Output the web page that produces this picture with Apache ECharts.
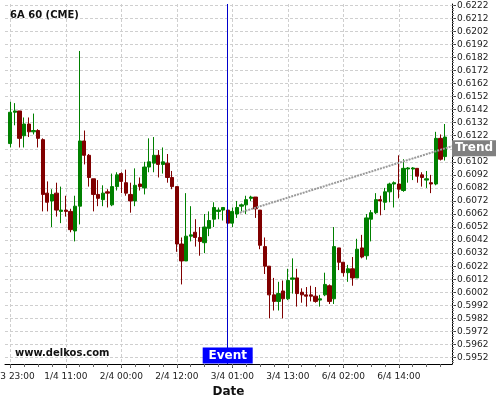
<!DOCTYPE html>
<html><head><meta charset="utf-8">
<script src="https://cdn.jsdelivr.net/npm/echarts@6/dist/echarts.min.js"></script>
<style>html,body{margin:0;padding:0;background:#fff}#c{width:500px;height:400px}</style>
</head><body><div id="c"></div>
<script>
const chartTitle = '6A 60 (CME)';
const watermark = 'www.delkos.com';
// hourly candles, index 0 = 31/3 23:00
const openP = [0.6116,0.6140,0.6141,0.6122,0.6131,0.6125,0.6126,0.6119,0.6078,0.6072,
  0.6078,0.6064,0.6065,0.6064,0.6049,0.6068,0.6118,0.6107,0.6089,0.6077,
  0.6073,0.6079,0.6069,0.6083,0.6093,0.6086,0.6077,0.6072,0.6085,0.6082,
  0.6098,0.6101,0.6107,0.6100,0.6101,0.6090,0.6083,0.6039,0.6026,0.6045,
  0.6048,0.6044,0.6040,0.6051,0.6058,0.6064,0.6065,0.6065,0.6055,0.6062,
  0.6068,0.6069,0.6074,0.6075,0.6065,0.6037,0.6022,0.6000,0.5995,0.6003,
  0.5997,0.6012,0.6013,0.6002,0.6000,0.6000,0.5999,0.5996,0.6000,0.6007,
  0.5997,0.6036,0.6025,0.6017,0.6020,0.6013,0.6036,0.6030,0.6058,0.6063,
  0.6073,0.6071,0.6079,0.6085,0.6085,0.6080,0.60965,0.60965,0.6097,0.6092,
  0.6088,0.6086,0.6085,0.6120,0.6106];
const closeP = [0.6140,0.6141,0.6120,0.6131,0.6125,0.6126,0.6120,0.6077,0.6071,0.6077,
  0.6065,0.6065,0.6064,0.6050,0.6068,0.6118,0.6107,0.6090,0.6077,0.6074,
  0.6078,0.6078,0.6083,0.6092,0.6087,0.6078,0.6072,0.6084,0.6083,0.6098,
  0.6102,0.6107,0.6100,0.6102,0.6090,0.6083,0.6039,0.6026,0.6045,0.6046,
  0.6044,0.6041,0.6052,0.6057,0.6067,0.6065,0.6067,0.6055,0.6064,0.6067,
  0.6069,0.6073,0.6075,0.6066,0.6038,0.6022,0.6000,0.5995,0.6001,0.5997,
  0.6011,0.6013,0.6001,0.6000,0.5999,0.5999,0.5995,0.5997,0.6008,0.5995,
  0.6037,0.6025,0.6017,0.6020,0.6013,0.6035,0.6029,0.6059,0.6063,0.6073,
  0.6072,0.6079,0.6085,0.6086,0.6081,0.6097,0.60973,0.60973,0.6091,0.6090,
  0.6089,0.6085,0.6120,0.6104,0.6121];
const lowP = [0.6113,0.6130,0.6113,0.6113,0.6121,0.6123,0.6113,0.6064,0.6064,0.6052,
  0.6060,0.6055,0.6060,0.6048,0.6041,0.6054,0.6100,0.6083,0.6064,0.6068,
  0.6068,0.6067,0.6068,0.6080,0.6078,0.6076,0.6063,0.6068,0.6080,0.6077,
  0.6094,0.6094,0.6090,0.6093,0.6086,0.6081,0.6033,0.6008,0.6026,0.6041,
  0.6037,0.6030,0.6032,0.6045,0.6052,0.6058,0.6057,0.6055,0.6052,0.6059,
  0.6064,0.6062,0.6072,0.6059,0.6035,0.6016,0.5982,0.5988,0.5988,0.5982,
  0.5996,0.6001,0.5991,0.5994,0.5991,0.5995,0.5994,0.5991,0.5999,0.5993,
  0.5993,0.6019,0.6014,0.6010,0.6007,0.6013,0.6028,0.6027,0.6041,0.6062,
  0.6061,0.6065,0.6071,0.6067,0.6074,0.6079,0.6086,0.6088,0.6086,0.6083,
  0.6082,0.6078,0.6084,0.6103,0.6103];
const highP = [0.6148,0.6147,0.6141,0.6136,0.6136,0.6139,0.6127,0.6120,0.6087,0.6081,
  0.6086,0.6083,0.6076,0.6066,0.6076,0.6187,0.6126,0.6108,0.6089,0.6088,
  0.6084,0.6081,0.6093,0.6094,0.6094,0.6096,0.6086,0.6097,0.6090,0.6102,
  0.6120,0.6121,0.6111,0.6113,0.6108,0.6095,0.6083,0.6044,0.6078,0.6068,
  0.6058,0.6052,0.6062,0.6064,0.6071,0.6067,0.6067,0.6067,0.6067,0.6072,
  0.6070,0.6076,0.6076,0.6075,0.6065,0.6044,0.6022,0.6013,0.6010,0.6011,
  0.6020,0.6028,0.6020,0.6005,0.6006,0.6007,0.6006,0.6000,0.6017,0.6008,
  0.6052,0.6036,0.6025,0.6023,0.6029,0.6043,0.6046,0.6062,0.6065,0.6078,
  0.6076,0.6082,0.6086,0.6087,0.6107,0.6104,0.6098,0.6098,0.6097,0.6094,
  0.6095,0.6092,0.6125,0.6123,0.6131];
const xTickIndex = [0, 12, 24, 36, 48, 60, 72, 84];
const xTickLabels = ['31/3 23:00', '1/4 11:00', '2/4 00:00', '2/4 12:00', '3/4 01:00', '3/4 13:00', '6/4 02:00', '6/4 14:00'];
const yTickValues = [0.5952,0.5962,0.5972,0.5982,0.5992,0.6002,0.6012,0.6022,0.6032,0.6042,
  0.6052,0.6062,0.6072,0.6082,0.6092,0.6102,0.6112,0.6122,0.6132,0.6142,
  0.6152,0.6162,0.6172,0.6182,0.6192,0.6202,0.6212,0.6222];
const eventIndex = 47;
const eventLabel = 'Event';
const trendStart = [49.6, 0.6063];
const trendEnd = [95.5, 0.6114];
const trendLabel = 'Trend';

const X_MIN = -1.15, X_MAX = 95.5, Y_MIN = 0.5947, Y_MAX = 0.6223;
const FONT = 'DejaVu Sans';
const candleData = openP.map((o, i) => [i, o, closeP[i], lowP[i], highP[i]]);
const xMinor = []; for (let i = 0; i <= 93; i += 3) xMinor.push(i);
const yMinor = []; for (let k = 0; k <= 137; k++) yMinor.push(+(0.5948 + k * 0.0002).toFixed(4));
const gridLine = { show: true, lineStyle: { color: '#cfcfcf', type: [3, 2], width: 1 } };

const chart = echarts.init(document.getElementById('c'), null, { renderer: 'canvas' });
chart.setOption({
  animation: false,
  backgroundColor: '#fff',
  title: { text: chartTitle, left: 10, top: 10, padding: 0,
    textStyle: { fontFamily: FONT, fontSize: 10, fontWeight: 'bold', color: '#111' } },
  graphic: [{ type: 'text', left: 15, top: 348, z: 10,
    style: { text: watermark, font: 'bold 10px "DejaVu Sans"', fill: '#111' } }],
  grid: { left: 5, right: 48, top: 4, bottom: 36, containLabel: false, outerBoundsMode: 'none' },
  xAxis: [{
    type: 'value', min: X_MIN, max: X_MAX, position: 'bottom',
    name: 'Date', nameLocation: 'middle', nameGap: 17,
    nameTextStyle: { fontFamily: FONT, fontSize: 12, fontWeight: 'bold', color: '#111' },
    axisLine: { show: true, onZero: false, lineStyle: { color: '#000', width: 1 } },
    axisTick: { show: true, length: 4, customValues: xTickIndex, lineStyle: { color: '#444' } },
    axisLabel: { customValues: xTickIndex, margin: 8, fontFamily: FONT, fontSize: 9, color: '#222',
      formatter: v => xTickLabels[xTickIndex.indexOf(Math.round(v))] },
    splitLine: gridLine
  }, {
    type: 'value', min: X_MIN, max: X_MAX, position: 'bottom',
    axisLine: { show: false, onZero: false }, axisLabel: { show: false }, splitLine: { show: false },
    axisTick: { show: true, length: 3, customValues: xMinor, lineStyle: { color: '#666' } }
  }],
  yAxis: [{
    type: 'value', min: Y_MIN, max: Y_MAX, position: 'right',
    axisLine: { show: true, onZero: false, lineStyle: { color: '#000', width: 1 } },
    axisTick: { show: true, length: 4, customValues: yTickValues, lineStyle: { color: '#444' } },
    axisLabel: { customValues: yTickValues, margin: 5, fontFamily: FONT, fontSize: 9, color: '#222',
      formatter: v => v.toFixed(4) },
    splitLine: gridLine
  }, {
    type: 'value', min: Y_MIN, max: Y_MAX, position: 'right',
    axisLine: { show: false, onZero: false }, axisLabel: { show: false }, splitLine: { show: false },
    axisTick: { show: true, length: 2, customValues: yMinor, lineStyle: { color: '#777' } }
  }],
  series: [{
    type: 'candlestick', xAxisIndex: 0, yAxisIndex: 0,
    encode: { x: 0, y: [1, 2, 3, 4] },
    data: candleData, barWidth: 3.8,
    itemStyle: { color: '#008000', color0: '#800000', borderColor: '#008000', borderColor0: '#800000', borderWidth: 1 },
    markLine: {
      silent: true, symbol: 'none', animation: false,
      label: { show: false },
      data: [
        [{ coord: [eventIndex, Y_MIN], lineStyle: { color: '#0000cc', width: 1, type: 'solid' } },
         { coord: [eventIndex, Y_MAX] }],
        [{ coord: trendStart, lineStyle: { color: '#9a9a9a', width: 2, type: [2, 1] } },
         { coord: trendEnd }]
      ]
    },
    markPoint: {
      silent: true, animation: false,
      data: [
        { coord: [eventIndex, Y_MIN], symbol: 'rect', symbolSize: [50, 16], symbolOffset: [0, -8.5],
          itemStyle: { color: '#0000ff' },
          label: { show: true, position: 'inside', formatter: eventLabel, color: '#fff',
            fontFamily: FONT, fontSize: 12, fontWeight: 'bold' } },
        { coord: trendEnd, symbol: 'rect', symbolSize: [44, 16], symbolOffset: [22, 2],
          itemStyle: { color: '#808080' },
          label: { show: true, position: 'inside', formatter: trendLabel, color: '#fff',
            fontFamily: FONT, fontSize: 12, fontWeight: 'bold' } }
      ]
    }
  }]
});
</script></body></html>
